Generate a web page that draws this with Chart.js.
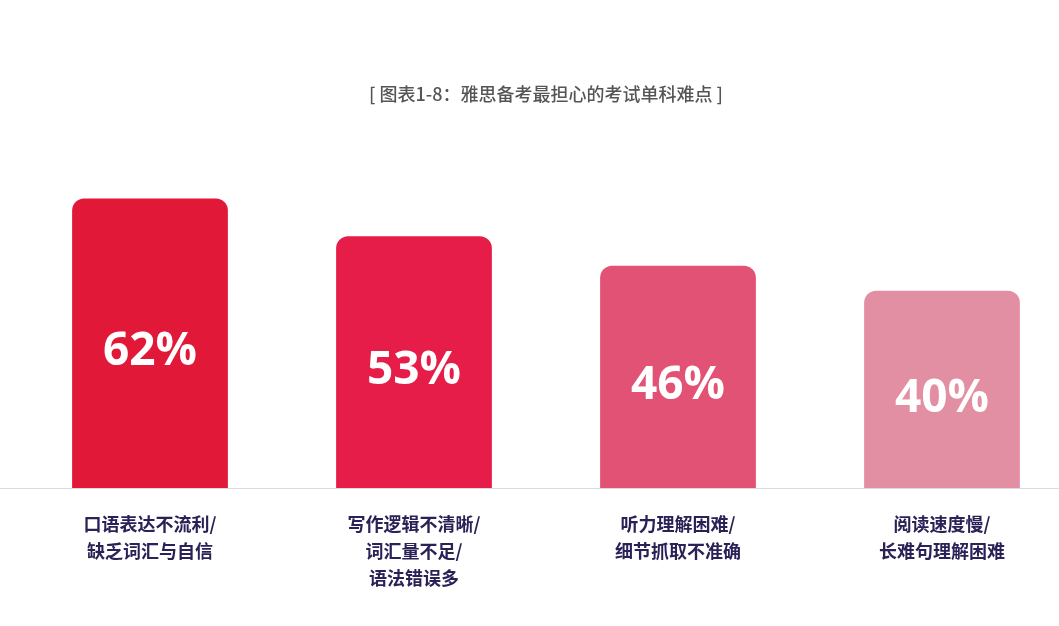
<!DOCTYPE html>
<html>
<head>
<meta charset="utf-8">
<script src="https://cdn.jsdelivr.net/npm/chart.js@4"></script>
<style>
  html, body { margin: 0; padding: 0; background: #fff; }
  #wrap { width: 1059px; height: 626px; overflow: hidden; position: relative; }
  #myChart { position: absolute; left: 0; top: 0; }
</style>
</head>
<body>
<div id="wrap"><canvas id="myChart" width="1080" height="626"></canvas></div>
<script>
// dati del grafico
var chartTitle = '[ 图表1-8：雅思备考最担心的考试单科难点 ]';
var categories = [
  ['口语表达不流利/', '缺乏词汇与自信'],
  ['写作逻辑不清晰/', '词汇量不足/', '语法错误多'],
  ['听力理解困难/', '细节抓取不准确'],
  ['阅读速度慢/', '长难句理解困难']
];
var shares = [62, 53, 46, 40];
var barColors = ['rgb(226,24,56)', 'rgb(229,29,72)', 'rgb(226,82,116)', 'rgb(227,143,163)'];

var axisMin = -7;
var axisMax = 82;

// linea di base su tutta la larghezza
var baseLine = {
  id: 'baseLine',
  beforeDatasetsDraw: function(chart) {
    var ctx = chart.ctx;
    var y = Math.round(chart.chartArea.bottom) + 0.5;
    ctx.save();
    ctx.strokeStyle = '#dcdcdc';
    ctx.lineWidth = 1;
    ctx.beginPath();
    ctx.moveTo(0, y);
    ctx.lineTo(chart.width, y);
    ctx.stroke();
    ctx.restore();
  }
};

// etichette percentuali dentro le barre
var valueLabels = {
  id: 'valueLabels',
  afterDatasetsDraw: function(chart) {
    var ctx = chart.ctx;
    var meta = chart.getDatasetMeta(0);
    ctx.save();
    ctx.fillStyle = '#ffffff';
    ctx.font = 'bold 46px "Open Sans", "Noto Sans", sans-serif';
    ctx.textAlign = 'center';
    ctx.textBaseline = 'middle';
    meta.data.forEach(function(bar, i) {
      var p = bar.getProps(['x', 'y', 'base'], true);
      ctx.fillText(shares[i] + '%', p.x, (p.y + p.base) / 2 + 9);
    });
    ctx.restore();
  }
};

var ctx = document.getElementById('myChart');
var chart = new Chart(ctx, {
  type: 'bar',
  data: {
    labels: categories,
    datasets: [{
      data: shares,
      base: axisMin,
      backgroundColor: barColors,
      borderRadius: { topLeft: 12, topRight: 12, bottomLeft: 0, bottomRight: 0 },
      borderSkipped: false,
      barPercentage: 0.59,
      categoryPercentage: 1
    }]
  },
  options: {
    responsive: false,
    animation: false,
    devicePixelRatio: 1,
    layout: { padding: { left: 18, right: 6, top: 0, bottom: 19 } },
    plugins: {
      legend: { display: false },
      tooltip: { enabled: false },
      title: {
        display: true,
        text: chartTitle,
        color: '#555555',
        font: { family: '"Noto Sans CJK SC", sans-serif', size: 18, weight: '500' },
        padding: { top: 83, bottom: 10 }
      }
    },
    scales: {
      x: {
        offset: true,
        grid: { display: false },
        border: { display: false },
        ticks: {
          color: '#2a2257',
          padding: 15,
          maxRotation: 0,
          autoSkip: false,
          font: { family: '"Noto Sans CJK SC", sans-serif', size: 18, weight: 'bold', lineHeight: 1.5 }
        }
      },
      y: {
        display: false,
        min: axisMin,
        max: axisMax
      }
    }
  },
  plugins: [baseLine, valueLabels]
});
</script>
</body>
</html>
